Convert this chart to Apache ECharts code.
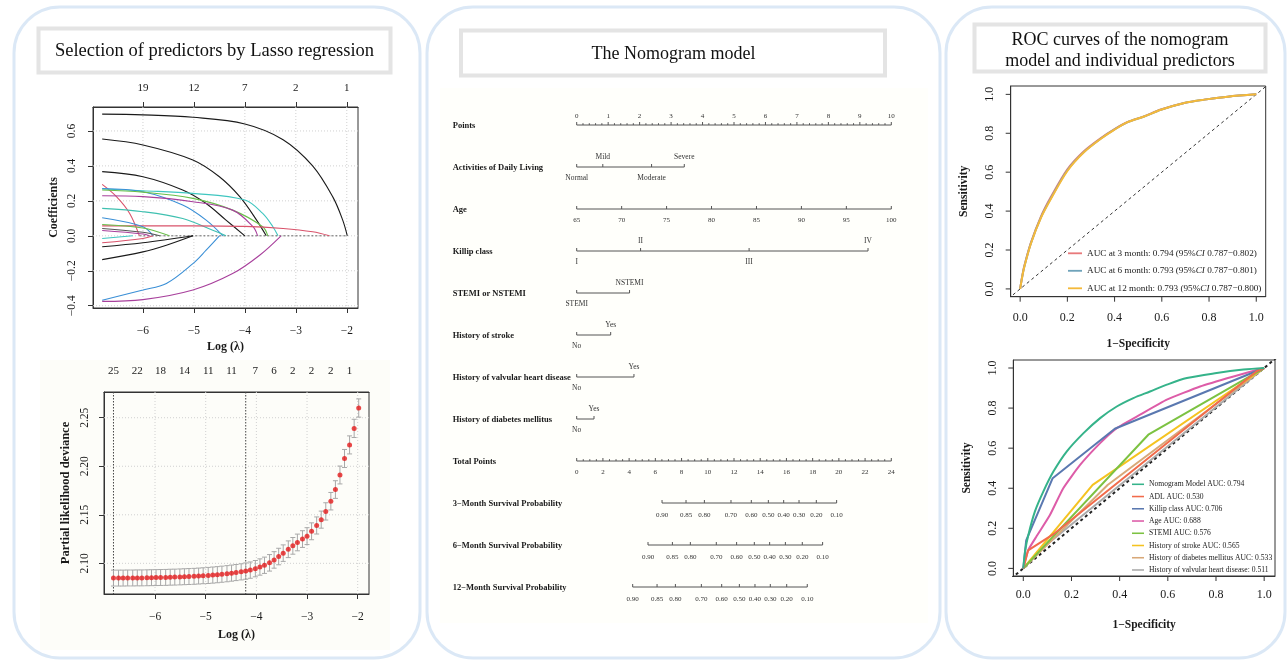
<!DOCTYPE html>
<html><head><meta charset="utf-8">
<script src="https://cdn.jsdelivr.net/npm/echarts@6/dist/echarts.min.js"></script>
<style>html,body{margin:0;padding:0;background:#fff}#c{width:1287px;height:662px}</style>
</head><body><div id="c"></div>
<script>
const F = '"Liberation Serif","Times New Roman",serif';

// ---------------- Lasso coefficient paths: [log(lambda), coefficient]
const lassoPathA = [[-6.8,0.696],[-6,0.692],[-5.02,0.678],[-4.0,0.64],[-3.25,0.55],[-2.67,0.40],[-2.27,0.22],[-2.08,0.09],[-1.99,0]];
const lassoPathB = [[-6.8,0.554],[-6,0.52],[-5.02,0.434],[-4.5,0.338],[-4.1,0.224],[-3.77,0.09],[-3.58,0]];
const lassoPathC = [[-6.8,0.367],[-6,0.338],[-5.22,0.262],[-4.76,0.185],[-4.37,0.09],[-4.0,0]];
const lassoPathD = [[-6.8,-0.136],[-6,-0.092],[-5.54,-0.054],[-5.02,0]];
const lassoPathE = [[-6.8,-0.063],[-6,-0.04],[-5.02,0]];
const lassoPathF = [[-6.8,-0.369],[-6,-0.31],[-5.54,-0.273],[-5.02,-0.159],[-4.76,-0.082],[-4.5,0]];
const lassoPathG = [[-6.8,-0.375],[-6,-0.365],[-5.02,-0.31],[-4.24,-0.216],[-3.71,-0.111],[-3.29,0]];
const lassoPathH = [[-6.8,0.294],[-6.52,0.224],[-6.26,0.128],[-6.07,0]];
const lassoPathI = [[-6.8,0.268],[-6,0.258],[-5.02,0.243],[-4.0,0.205],[-3.65,0.128],[-3.45,0.052],[-3.35,0]];
const lassoPathJ = [[-6.8,0.271],[-6,0.252],[-5.22,0.176],[-4.76,0.09],[-4.43,0]];
const lassoPathK = [[-6.8,0.262],[-6,0.25],[-5.02,0.214],[-4.24,0.147],[-3.65,0.052],[-3.55,0]];
const lassoPathL = [[-6.8,0.229],[-6,0.224],[-5.02,0.195],[-4.24,0.147],[-3.84,0.052],[-3.75,0]];
const lassoPathM = [[-6.8,0.157],[-6,0.138],[-5.22,0.099],[-4.63,0.032],[-4.37,0]];
const lassoPathN = [[-6.8,0.057],[-5.02,0.057],[-4.0,0.054],[-3.25,0.042],[-2.67,0.023],[-2.34,0]];
const lassoPathO = [[-6.8,0.103],[-6,0.052],[-5.8,0]];
const lassoPathP = [[-6.8,0.065],[-6,0.045],[-5.48,0]];
const lassoPathQ = [[-6.8,0.042],[-6,0.02],[-5.67,0]];
const lassoPathR = [[-6.8,0.03],[-6,0.01],[-5.87,0]];
const lassoPathS = [[-6.8,-0.015],[-6.2,0]];
const lassoPathT = [[-6.8,-0.04],[-6,-0.015],[-5.8,0]];
const lassoZero = [[-6.07,0],[-1.99,0]];
const lassoPaths = [lassoPathA,lassoPathB,lassoPathC,lassoPathD,lassoPathE,lassoPathF,lassoPathG,lassoPathH,lassoPathI,lassoPathJ,lassoPathK,lassoPathL,lassoPathM,lassoPathN,lassoPathO,lassoPathP,lassoPathQ,lassoPathR,lassoPathS,lassoPathT];
const logLambdaTicks = [-6,-5,-4,-3,-2];
const coefTicks = [-0.4,-0.2,0,0.2,0.4,0.6];
const lassoTopAt = [-6,-5,-4,-3,-2];
const lassoTopCounts = ['19','12','7','2','1'];

// ---------------- Cross-validation
const cvLogLambda = [-6.82,-6.72,-6.63,-6.54,-6.44,-6.35,-6.26,-6.16,-6.07,-5.98,-5.89,-5.79,-5.70,-5.61,-5.51,-5.42,-5.33,-5.23,-5.14,-5.05,-4.95,-4.86,-4.77,-4.68,-4.58,-4.49,-4.40,-4.30,-4.21,-4.12,-4.02,-3.93,-3.84,-3.74,-3.65,-3.56,-3.47,-3.37,-3.28,-3.19,-3.09,-3.00,-2.91,-2.81,-2.72,-2.63,-2.53,-2.44,-2.35,-2.26,-2.16,-2.07,-1.98];
const cvDeviance = [2.0848,2.0848,2.0848,2.0849,2.0849,2.0850,2.0850,2.0851,2.0852,2.0853,2.0854,2.0855,2.0857,2.0858,2.0860,2.0862,2.0864,2.0866,2.0869,2.0872,2.0875,2.0879,2.0883,2.0888,2.0893,2.0899,2.0905,2.0912,2.0920,2.0930,2.0945,2.0962,2.0980,2.1005,2.1035,2.1070,2.1105,2.1145,2.118,2.1215,2.125,2.128,2.133,2.139,2.145,2.1535,2.164,2.176,2.191,2.208,2.222,2.239,2.260];
const cvSE = [0.0082,0.0082,0.0082,0.0082,0.0082,0.0082,0.0082,0.0082,0.0082,0.0082,0.0082,0.0082,0.0082,0.0082,0.0082,0.0082,0.0082,0.0082,0.0082,0.0082,0.0083,0.0083,0.0083,0.0083,0.0083,0.0083,0.0083,0.0083,0.0084,0.0084,0.0084,0.0084,0.0084,0.0085,0.0085,0.0085,0.0085,0.0086,0.0086,0.0086,0.0086,0.0087,0.0087,0.0088,0.0088,0.0089,0.0090,0.0091,0.0092,0.0093,0.0093,0.0094,0.0094];
const cvTopAt = [-6.82,-6.35,-5.89,-5.42,-4.95,-4.49,-4.02,-3.65,-3.28,-2.91,-2.53,-2.16];
const cvTopCounts = ['25','22','18','14','11','11','7','6','2','2','2','1'];
const cvLambdaLines = [-6.82,-4.21];
const devTicks = [2.10,2.15,2.20,2.25];

// ---------------- Nomogram
const nomoRowNames = ['Points','Activities of Daily Living','Age','Killip class','STEMI or NSTEMI','History of stroke','History of valvular heart disease','History of diabetes mellitus','Total Points','3\u2212Month Survival Probability','6\u2212Month Survival Probability','12\u2212Month Survival Probability'];
const adlLevels = ['Normal','Mild','Moderate','Severe'];       const adlPoints = [0,0.83,2.38,3.42];
const killipLevels = ['I','II','III','IV'];                    const killipPoints = [0,2.03,5.48,9.26];
const stemiLevels = ['STEMI','NSTEMI'];                        const stemiPoints = [0,1.68];
const strokeLevels = ['No','Yes'];                             const strokePoints = [0,1.08];
const valveLevels = ['No','Yes'];                              const valvePoints = [0,1.82];
const diabLevels = ['No','Yes'];                               const diabPoints = [0,0.55];
const ageTicks = [65,70,75,80,85,90,95,100];
const survLabels = ['0.90','0.85','0.80','0.70','0.60','0.50','0.40','0.30','0.20','0.10'];
const surv3Total = [6.51,8.34,9.74,11.77,13.32,14.62,15.79,16.96,18.28,19.83];
const surv6Total = [5.44,7.30,8.67,10.65,12.20,13.55,14.72,15.92,17.21,18.76];
const surv12Total = [4.27,6.13,7.53,9.51,11.06,12.41,13.60,14.77,16.02,17.59];

// ---------------- ROC
const rocTopNames = ['AUC at 3 month: 0.794 (95%CI 0.787\u22120.802)','AUC at 6 month: 0.793 (95%CI 0.787\u22120.801)','AUC at 12 month: 0.793 (95%CI 0.787\u22120.800)'];
const rocTop3m = [[0,0],[0.008,0.06],[0.017,0.115],[0.045,0.236],[0.088,0.372],[0.13,0.472],[0.2,0.615],[0.27,0.708],[0.342,0.776],[0.40,0.822],[0.455,0.858],[0.525,0.887],[0.596,0.922],[0.695,0.956],[0.78,0.973],[0.88,0.988],[1,1]];
const rocTop6m = [[0,0],[0.008,0.058],[0.017,0.112],[0.045,0.233],[0.088,0.368],[0.13,0.466],[0.2,0.61],[0.27,0.704],[0.342,0.773],[0.40,0.82],[0.455,0.857],[0.525,0.886],[0.596,0.921],[0.695,0.956],[0.78,0.973],[0.88,0.988],[1,1]];
const rocTop12m = [[0,0],[0.008,0.057],[0.017,0.11],[0.045,0.231],[0.088,0.365],[0.13,0.462],[0.2,0.606],[0.27,0.702],[0.342,0.772],[0.40,0.819],[0.455,0.857],[0.525,0.886],[0.596,0.921],[0.695,0.956],[0.78,0.973],[0.88,0.988],[1,1]];
const rocBottomNames = ['Nomogram Model AUC: 0.794','ADL AUC: 0.530','Killip class AUC: 0.706','Age AUC: 0.688','STEMI AUC: 0.576','History of stroke AUC: 0.565','History of diabetes mellitus AUC: 0.533','History of valvular heart disease: 0.511'];
const rocNomogram = [[0,0],[0.008,0.09],[0.021,0.167],[0.048,0.283],[0.083,0.383],[0.125,0.483],[0.18,0.583],[0.25,0.675],[0.319,0.75],[0.388,0.808],[0.457,0.85],[0.526,0.883],[0.596,0.917],[0.679,0.95],[0.803,0.975],[0.914,0.992],[1,1]];
const rocADL = [[0,0],[0.02,0.09],[0.13,0.175],[0.97,0.985],[1,1]];
const rocKillip = [[0,0],[0.012,0.14],[0.122,0.45],[0.38,0.697],[1,1]];
const rocAge = [[0,0],[0.02,0.09],[0.055,0.16],[0.11,0.265],[0.166,0.40],[0.235,0.515],[0.319,0.625],[0.388,0.70],[0.485,0.767],[0.596,0.842],[0.734,0.908],[0.873,0.958],[1,1]];
const rocSTEMI = [[0,0],[0.519,0.667],[1,1]];
const rocStroke = [[0,0],[0.288,0.417],[1,1]];
const rocDiabetes = [[0,0],[0.35,0.416],[1,1]];
const rocValvular = [[0,0],[0.1,0.122],[1,1]];
const rocBottomData = [rocNomogram,rocADL,rocKillip,rocAge,rocSTEMI,rocStroke,rocDiabetes,rocValvular];
const rocTicks = [0,0.2,0.4,0.6,0.8,1.0];
const diagLine = [[-0.05,-0.05],[1.05,1.05]];

// ================= styles
const lassoColors = ['#1a1a1a','#1a1a1a','#1a1a1a','#1a1a1a','#1a1a1a','#3a8fd6','#a8409c','#d9536b','#3fc6c0','#3a8fd6','#69bf4a','#a8409c','#3fc0b0','#d9536b','#3a8fd6','#69bf4a','#555555','#a8409c','#3fc6c0','#d9536b'];
const rocTopColors = ['#e8797b','#6fa3ba','#f4b93a'];
const rocBottomColors = ['#35b38a','#f26b4b','#5a78b0','#dd5ca8','#7cc242','#f5c320','#d8a878','#aaaaaa'];
const TXT = '#1a1a1a';
const fmt = d => v => (v < 0 ? '\u2212' : '') + Math.abs(v).toFixed(d);

function refLines(xIdx, yIdx, xs, ys, anchorX, anchorY, style) {
  const items = xs.map(v => ({o:'v', d:[v, anchorY]})).concat(ys.map(v => ({o:'h', d:[anchorX, v]})));
  return {type:'custom', xAxisIndex:xIdx, yAxisIndex:yIdx, silent:true, z:1, clip:false,
    data: items.map(it => it.d),
    renderItem: (params, api) => {
      const it = items[params.dataIndex]; const cs = params.coordSys;
      const p = api.coord([api.value(0), api.value(1)]);
      const shape = it.o === 'v' ? {x1:p[0], y1:cs.y, x2:p[0], y2:cs.y+cs.height} : {x1:cs.x, y1:p[1], x2:cs.x+cs.width, y2:p[1]};
      return {type:'line', shape, style};
    }};
}
// outward tick marks on the bottom (x) and left (y) frame edges
function frameTicks(xIdx, yIdx, xs, ys, anchorX, anchorY, len) {
  const items = xs.map(v => ({o:'x', d:[v, anchorY]})).concat(ys.map(v => ({o:'y', d:[anchorX, v]})));
  return {type:'custom', xAxisIndex:xIdx, yAxisIndex:yIdx, silent:true, z:5, clip:false,
    data: items.map(it => it.d),
    renderItem: (params, api) => {
      const it = items[params.dataIndex]; const cs = params.coordSys;
      const p = api.coord([api.value(0), api.value(1)]);
      const b = cs.y + cs.height;
      const shape = it.o === 'x' ? {x1:p[0], y1:b, x2:p[0], y2:b + len} : {x1:cs.x - len, y1:p[1], x2:cs.x, y2:p[1]};
      return {type:'line', shape, style:{stroke:'#333', lineWidth:1}};
    }};
}

function axisCfg(o) {
  const base = {type:'value', splitLine:{show:false}, axisLine:{show:true, onZero:false, lineStyle:{color:'#333', width:1}},
    axisTick:{show:true, inside:false, length:5, lineStyle:{color:'#333'}},
    axisLabel:{fontFamily:F, fontSize:11.5, color:TXT},
    nameTextStyle:{fontFamily:F, fontWeight:'bold', fontSize:12, color:TXT}, nameLocation:'middle'};
  const r = Object.assign({}, base, o);
  r.axisTick = Object.assign({}, base.axisTick, o.axisTick || {});
  r.axisLabel = Object.assign({}, base.axisLabel, o.axisLabel || {});
  r.nameTextStyle = Object.assign({}, base.nameTextStyle, o.nameTextStyle || {});
  return r;
}

// ---------- nomogram items
const nomoP = [], nomoA = [], nomoT = [];
nomoRowNames.forEach((t, r) => nomoP.push({k:'name', x:0, row:r, text:t}));
nomoP.push({k:'line', x:0, x2:10, row:0});
for (let j = 0; j <= 50; j++) {
  const major = j % 5 === 0;
  nomoP.push({k:'tick', x:j/5, row:0, len: major ? 3 : 1.8, text: major ? String(j/5) : null, dy:-9, fs:7});
}
function catRow(row, levels, pts) {
  nomoP.push({k:'line', x:Math.min(...pts), x2:Math.max(...pts), row});
  levels.forEach((l, i) => nomoP.push({k:'tick', x:pts[i], row, len:3, text:l, dy: i % 2 ? -10 : 11, fs:7.5}));
}
catRow(1, adlLevels, adlPoints);
catRow(3, killipLevels, killipPoints);
catRow(4, stemiLevels, stemiPoints);
catRow(5, strokeLevels, strokePoints);
catRow(6, valveLevels, valvePoints);
catRow(7, diabLevels, diabPoints);
nomoA.push({k:'line', x:ageTicks[0], x2:ageTicks[ageTicks.length-1], row:2});
ageTicks.forEach(a => nomoA.push({k:'tick', x:a, row:2, len:3, text:String(a), dy:10.7, fs:7}));
nomoT.push({k:'line', x:0, x2:24, row:8});
for (let j = 0; j <= 48; j++) {
  const major = j % 4 === 0;
  nomoT.push({k:'tick', x:j/2, row:8, len: major ? 3 : 1.8, text: major ? String(j/2) : null, dy:11, fs:7});
}
[[9, surv3Total],[10, surv6Total],[11, surv12Total]].forEach(([row, tot]) => {
  nomoT.push({k:'line', x:Math.min(...tot), x2:Math.max(...tot), row});
  tot.forEach((v, i) => nomoT.push({k:'tick', x:v, row, len:3, text:survLabels[i], dy:11.7, fs:7}));
});
function nomoSeries(xIdx, items) {
  return {type:'custom', xAxisIndex:xIdx, yAxisIndex:2, silent:true, clip:false, z:3,
    data: items.map(it => [it.x, it.row]),
    renderItem: (params, api) => {
      const it = items[params.dataIndex]; const cs = params.coordSys;
      const p = api.coord([it.x, it.row]);
      if (it.k === 'name') return {type:'text', x: cs.x - 124, y: p[1] + 1,
        style:{text:it.text, fontFamily:F, fontSize:8.5, fontWeight:'bold', fill:TXT, align:'left', verticalAlign:'middle'}};
      if (it.k === 'line') { const q = api.coord([it.x2, it.row]);
        return {type:'line', shape:{x1:p[0], y1:p[1], x2:q[0], y2:p[1]}, style:{stroke:'#555', lineWidth:1}}; }
      const ch = [{type:'line', shape:{x1:p[0], y1:p[1], x2:p[0], y2:p[1] - it.len}, style:{stroke:'#555', lineWidth:1}}];
      if (it.text != null) ch.push({type:'text', x:p[0], y:p[1] + it.dy,
        style:{text:it.text, fontFamily:F, fontSize:it.fs, fill:'#333', align:'center', verticalAlign:'middle'}});
      return {type:'group', children:ch};
    }};
}

// ================= option
const series = [];
series.push(refLines(0, 0, logLambdaTicks, coefTicks, -6.98, -0.413, {stroke:'#d0d0d0', lineWidth:1, lineDash:[1,2]}));
series.push({type:'line', xAxisIndex:0, yAxisIndex:0, data:lassoZero, showSymbol:false, silent:true, z:2,
  lineStyle:{color:'#666', width:1, type:[2,2]}});
lassoPaths.forEach((p, i) => series.push({type:'line', xAxisIndex:0, yAxisIndex:0, data:p, showSymbol:false, smooth:0.35,
  silent:true, lineStyle:{color:lassoColors[i], width:1.1}, z:3}));
series.push(refLines(2, 1, logLambdaTicks, devTicks, -7.007, 2.0684, {stroke:'#d0d0d0', lineWidth:1, lineDash:[1,2]}));
series.push(refLines(2, 1, cvLambdaLines, [], -7.007, 2.0684, {stroke:'#444', lineWidth:1, lineDash:[1.5,1.5]}));
series.push({type:'custom', xAxisIndex:2, yAxisIndex:1, silent:true, z:3,
  data: cvLogLambda.map((x, i) => [x, cvDeviance[i], cvSE[i]]),
  renderItem: (params, api) => {
    const x = api.value(0), y = api.value(1), s = api.value(2);
    const t = api.coord([x, y + s]), b = api.coord([x, y - s]);
    const st = {stroke:'#a8a8a8', lineWidth:1};
    return {type:'group', children:[
      {type:'line', shape:{x1:t[0], y1:t[1], x2:b[0], y2:b[1]}, style:st},
      {type:'line', shape:{x1:t[0]-2.5, y1:t[1], x2:t[0]+2.5, y2:t[1]}, style:st},
      {type:'line', shape:{x1:b[0]-2.5, y1:b[1], x2:b[0]+2.5, y2:b[1]}, style:st}]};
  }});
series.push({type:'scatter', xAxisIndex:2, yAxisIndex:1, data: cvLogLambda.map((x, i) => [x, cvDeviance[i]]),
  symbolSize:5, itemStyle:{color:'#e41a1c'}, silent:true, z:4});
series.push(nomoSeries(4, nomoP));
series.push(nomoSeries(5, nomoA));
series.push(nomoSeries(6, nomoT));
series.push({type:'line', xAxisIndex:7, yAxisIndex:3, data:diagLine, showSymbol:false, silent:true,
  lineStyle:{color:'#333', width:1, type:[3,3]}, z:2});
[rocTop3m, rocTop6m, rocTop12m].forEach((d, i) => series.push({type:'line', name:rocTopNames[i], xAxisIndex:7, yAxisIndex:3,
  data:d, showSymbol:false, smooth:0.3, silent:true, lineStyle:{color:rocTopColors[i], width:2}, itemStyle:{color:rocTopColors[i]}, z:3}));
series.push(frameTicks(7, 3, rocTicks, rocTicks, -0.04, -0.04, 5));
series.push({type:'line', xAxisIndex:8, yAxisIndex:4, data:diagLine, showSymbol:false, silent:true,
  lineStyle:{color:'#222', width:2, type:[3,3]}, z:2});
rocBottomData.slice().reverse().forEach((d, ri) => {
  const i = rocBottomData.length - 1 - ri;
  series.push({type:'line', name:rocBottomNames[i], xAxisIndex:8, yAxisIndex:4, data:d, showSymbol:false,
    smooth: i === 0 ? 0.3 : (i === 3 ? 0.15 : false), silent:true,
    lineStyle:{color:rocBottomColors[i], width:2}, itemStyle:{color:rocBottomColors[i]}, z:3});
});
series.push(frameTicks(8, 4, rocTicks, rocTicks, -0.0415, -0.038, 5));

const rocX = (grid, min, max, margin, gap) => axisCfg({gridIndex:grid, min, max, name:'1\u2212Specificity', nameGap:gap, position:'bottom',
  axisTick:{show:false}, axisLabel:{customValues:rocTicks, formatter:fmt(1), margin, fontSize:12}, nameTextStyle:{fontSize:11.5}});
const rocY = (grid, min, max, margin, gap) => axisCfg({gridIndex:grid, min, max, name:'Sensitivity', nameGap:gap, nameRotate:90, position:'left',
  axisTick:{show:false}, axisLabel:{customValues:rocTicks, formatter:fmt(1), margin, rotate:90, fontSize:12}, nameTextStyle:{fontSize:11.5}});

const LINE_ICON = 'path://M0,0 L20,0 L20,2.6 L0,2.6 Z';
const option = {
  animation:false,
  backgroundColor:'#ffffff',
  textStyle:{fontFamily:F},
  grid:[
    {left:93, top:107, width:265, height:201, show:true, borderColor:'#333', borderWidth:1, backgroundColor:'transparent'},
    {left:104, top:392, width:265, height:202, show:true, borderColor:'#333', borderWidth:1, backgroundColor:'transparent'},
    {left:576.7, top:108.2, width:314.6, height:495.6, show:false},
    {left:1010.7, top:86, width:255, height:210.7, show:true, borderColor:'#333', borderWidth:1, backgroundColor:'transparent'},
    {left:1013.3, top:360, width:261.7, height:216, show:true, borderColor:'#333', borderWidth:1, backgroundColor:'transparent'}
  ],
  xAxis:[
    axisCfg({gridIndex:0, min:-6.98, max:-1.78, name:'Log (\u03bb)', nameGap:33, position:'bottom',
      axisTick:{customValues:logLambdaTicks}, axisLabel:{customValues:logLambdaTicks, formatter:fmt(0), margin:17}}),
    axisCfg({gridIndex:0, min:-6.98, max:-1.78, position:'top',
      axisTick:{customValues:lassoTopAt}, axisLabel:{customValues:lassoTopAt, margin:13, fontSize:11,
        formatter: v => lassoTopCounts[lassoTopAt.findIndex(a => Math.abs(a - v) < 1e-6)]}}),
    axisCfg({gridIndex:1, min:-7.007, max:-1.777, name:'Log (\u03bb)', nameGap:35, position:'bottom',
      axisTick:{customValues:logLambdaTicks}, axisLabel:{customValues:logLambdaTicks, formatter:fmt(0), margin:17}}),
    axisCfg({gridIndex:1, min:-7.007, max:-1.777, position:'top',
      axisTick:{show:false}, axisLabel:{customValues:cvTopAt, margin:15, fontSize:11,
        formatter: v => cvTopCounts[cvTopAt.findIndex(a => Math.abs(a - v) < 1e-6)]}}),
    {type:'value', gridIndex:2, min:0, max:10, show:false},
    {type:'value', gridIndex:2, min:65, max:100, show:false},
    {type:'value', gridIndex:2, min:0, max:24, show:false},
    rocX(3, -0.04, 1.04, 15, 41),
    rocX(4, -0.0415, 1.045, 13, 43)
  ],
  yAxis:[
    axisCfg({gridIndex:0, min:-0.413, max:0.737, name:'Coefficients', nameGap:33, nameRotate:90, position:'left',
      axisTick:{customValues:coefTicks}, axisLabel:{customValues:coefTicks, formatter:fmt(1), rotate:90, margin:15}}),
    axisCfg({gridIndex:1, min:2.0684, max:2.2765, name:'Partial likelihood deviance', nameGap:32, nameRotate:90, position:'left',
      axisTick:{customValues:devTicks}, axisLabel:{customValues:devTicks, formatter:fmt(2), rotate:90, margin:13},
      nameTextStyle:{fontSize:12.5}}),
    {type:'value', gridIndex:2, min:-0.4, max:11.4, inverse:true, show:false},
    rocY(3, -0.04, 1.043, 15, 41),
    rocY(4, -0.038, 1.04, 14, 40)
  ],
  legend:[
    {data:rocTopNames, orient:'vertical', left:1068, top:248.3, itemWidth:14, itemHeight:10, itemGap:7.5, padding:0,
      icon:LINE_ICON, selectedMode:false, formatter: n => '{n|' + n.replace('95%CI', '95%}{i|CI}{n|') + '}',
      textStyle:{fontFamily:F, fontSize:9.2, color:TXT, lineHeight:10,
        rich:{n:{fontFamily:F, fontSize:9.2, color:TXT, lineHeight:10}, i:{fontFamily:F, fontSize:9.2, fontStyle:'italic', color:TXT, lineHeight:10}}}},
    {data:rocBottomNames, orient:'vertical', left:1132, top:479.3, itemWidth:12, itemHeight:10, itemGap:2.24, padding:0,
      icon:LINE_ICON, selectedMode:false, textStyle:{fontFamily:F, fontSize:7.6, color:TXT, lineHeight:10}}
  ],
  graphic:[
    {type:'rect', silent:true, z:-10, shape:{x:440, y:88, width:488, height:535}, style:{fill:'#fffffb'}},
    {type:'rect', silent:true, z:-10, shape:{x:40, y:360, width:350, height:290}, style:{fill:'#fdfdf9'}},
    {type:'rect', silent:true, z:-9, shape:{x:14, y:7, width:406, height:651, r:46}, style:{fill:'none', stroke:'#dbe8f6', lineWidth:3}},
    {type:'rect', silent:true, z:-9, shape:{x:427, y:7, width:513, height:651, r:46}, style:{fill:'none', stroke:'#dbe8f6', lineWidth:3}},
    {type:'rect', silent:true, z:-9, shape:{x:946, y:7, width:339, height:651, r:46}, style:{fill:'none', stroke:'#dbe8f6', lineWidth:3}},
    {type:'rect', silent:true, z:-8, shape:{x:38.5, y:28.5, width:352, height:44}, style:{fill:'#fff', stroke:'#e4e4e4', lineWidth:4}},
    {type:'rect', silent:true, z:-8, shape:{x:461, y:30.5, width:424, height:45}, style:{fill:'#fff', stroke:'#e4e4e4', lineWidth:4}},
    {type:'rect', silent:true, z:-8, shape:{x:974.5, y:24.5, width:291, height:47}, style:{fill:'#fff', stroke:'#e4e4e4', lineWidth:4}},
    {type:'text', silent:true, z:-7, x:214.5, y:51, style:{text:'Selection of predictors by Lasso regression', fontFamily:F, fontSize:18.5, fill:'#111', align:'center', verticalAlign:'middle'}},
    {type:'text', silent:true, z:-7, x:673.5, y:54, style:{text:'The Nomogram model', fontFamily:F, fontSize:18, fill:'#111', align:'center', verticalAlign:'middle'}},
    {type:'text', silent:true, z:-7, x:1120, y:50.5, style:{text:'ROC curves of the nomogram\nmodel and individual predictors', fontFamily:F, fontSize:18, lineHeight:21, fill:'#111', align:'center', verticalAlign:'middle'}}
  ],
  series
};
const chart = echarts.init(document.getElementById('c'), null, {renderer:'canvas'});
chart.setOption(option);
</script></body></html>
